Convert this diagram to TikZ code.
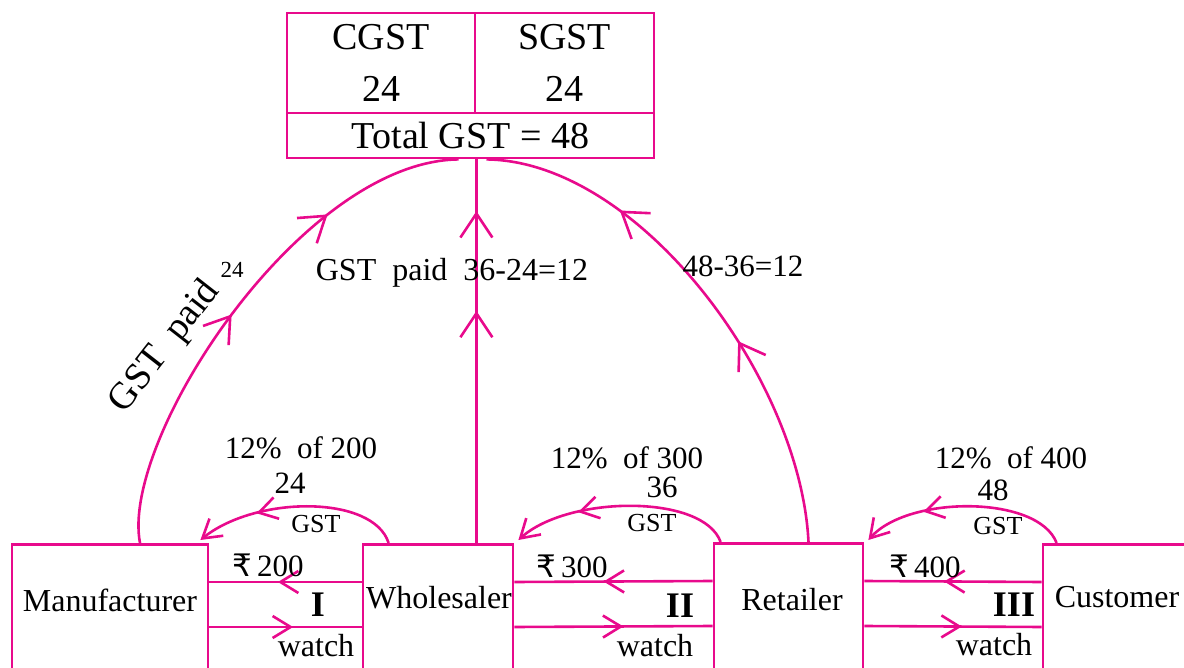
\documentclass[tikz,border=0pt]{standalone}
\usepackage{fontspec}
\setmainfont{Liberation Serif}
\newfontfamily\rupeefont{DejaVu Sans}
\usepackage{tikz}
\usetikzlibrary{arrows.meta}
\usetikzlibrary{decorations.markings}
\definecolor{gstpink}{RGB}{232,10,140}
\newcommand{\rs}{{\rupeefont ₹}}

\begin{document}
\begin{tikzpicture}
          [x=1pt, y=-1pt,
           conn/.style={draw=gstpink, color=gstpink, line width=2.6pt},
           party/.style={draw=gstpink, line width=2.8pt, minimum height=300pt, anchor=north, inner sep=0pt},
           cell/.style={draw=gstpink, line width=2.8pt, inner sep=0pt, align=center, font=\fontsize{38}{52}\selectfont},
           boxtext/.style={inner sep=0pt, font=\fontsize{32}{36}\selectfont},
           lbl/.style={inner sep=0pt, font=\fontsize{31}{36}\selectfont},
           small/.style={inner sep=0pt, font=\fontsize{26}{30}\selectfont},
           stage/.style={inner sep=0pt, font=\fontsize{36}{40}\selectfont\bfseries},
           tip/.style={-{Straight Barb[length=18pt,width=22pt]}},
           mid/.style={postaction={decorate}, decoration={markings,
             mark=at position #1 with {\arrow{Straight Barb[length=18pt,width=22pt]}}}},
           twomid/.style 2 args={postaction={decorate}, decoration={markings,
             mark=at position #1 with {\arrow{Straight Barb[length=24pt,width=32pt]}},
             mark=at position #2 with {\arrow{Straight Barb[length=24pt,width=32pt]}}}}]
          \useasboundingbox (0,0) rectangle (1184,668);
          \clip (0,0) rectangle (1184,668);

          % GST table
          \node[cell, minimum width=188pt, minimum height=100pt] (cgst) at (381,63) {CGST\\24};
          \node[cell, minimum width=179pt, minimum height=100pt] (sgst) at (564.5,63) {SGST\\24};
          \node[cell, minimum width=367pt, minimum height=45pt] (total) at (470.5,135.5) {Total GST = 48};

          % the four parties
          \node[party, minimum width=196pt] (man) at (110,543) {};
          \node[party, minimum width=150pt] (whole) at (438,543) {};
          \node[party, minimum width=149pt] (ret) at (788.5,542) {};
          \node[party, minimum width=150pt] (cust) at (1118,543) {};
          \node[boxtext] (mantext) at (110,600) {Manufacturer};
          \node[boxtext] (wholetext) at (439,598) {Wholesaler};
          \node[boxtext] (rettext) at (792,600) {Retailer};
          \node[boxtext] (custtext) at (1117,597) {Customer};

          % money and goods
          \foreach \a/\b in {man/whole, whole/ret, ret/cust} {
            \draw[conn, mid=0.55] ([yshift=-39pt]\b.north west) -- ([yshift=-39pt]\a.north east);
            \draw[conn, mid=0.55] ([yshift=-84pt]\a.north east) -- ([yshift=-84pt]\b.north west);
          }
          \node[lbl] (pay1) at (268,565) {\rs\,200};
          \node[lbl] (pay2) at (572,566) {\rs\,300};
          \node[lbl] (pay3) at (925,566) {\rs\,400};
          \node[stage] (st1) at (318,605) {I};
          \node[stage] (st2) at (680,606) {II};
          \node[stage] (st3) at (1014,605) {III};
          \node[boxtext] (w1) at (316,646) {watch};
          \node[boxtext] (w2) at (655,646) {watch};
          \node[boxtext] (w3) at (994,645) {watch};

          % GST collected at each stage
          \draw[conn, tip, mid=0.7] ([xshift=27pt]whole.north west) .. controls +(-15,-48) and +(56,-45) .. ([shift={(-9pt,3pt)}]man.north east);
          \draw[conn, tip, mid=0.7] ([xshift=8pt]ret.north west) .. controls +(-17,-48) and +(50,-45) .. ([shift={(4pt,3pt)}]whole.north east);
          \draw[conn, tip, mid=0.7] ([xshift=15pt]cust.north west) .. controls +(-18,-48) and +(40,-45) .. ([shift={(4pt,2pt)}]ret.north east);
          \node[small] (g1) at (316,524) {GST};
          \node[small] (g2) at (652,523) {GST};
          \node[small] (g3) at (998,526) {GST};
          \node[lbl] (v1) at (290,483) {24};
          \node[lbl] (v2) at (662,487) {36};
          \node[lbl] (v3) at (993,490) {48};
          \node[lbl] (r1) at (301,448) {12\%~~of 200};
          \node[lbl] (r2) at (627,458) {12\%~~of 300};
          \node[lbl] (r3) at (1011,458) {12\%~~of 400};

          % GST paid to government
          \draw[conn, twomid={0.47}{0.73}] ([xshift=30pt]man.north) .. controls +(-20,-103) and +(-158,2) .. ([xshift=-12pt]total.south);
          \draw[conn, twomid={0.605}{0.865}] (whole.north -| cgst.east) -- (total.south -| cgst.east);
          \draw[conn, twomid={0.40}{0.73}] ([xshift=20pt]ret.north) .. controls +(-8,-163) and +(153,2) .. ([xshift=16pt]total.south);
          \node[lbl, rotate=52, font=\fontsize{38}{42}\selectfont] (paid1) at (165,347) {GST~~paid};
          \node[inner sep=0pt, font=\fontsize{23}{26}\selectfont] (sup1) at (232,270) {24};
          \node[lbl, font=\fontsize{32}{36}\selectfont] (paid2) at (452,273) {GST~~paid~~36-24=12};
          \node[lbl] (paid3) at (743,266) {48-36=12};

        \end{tikzpicture}
\end{document}
